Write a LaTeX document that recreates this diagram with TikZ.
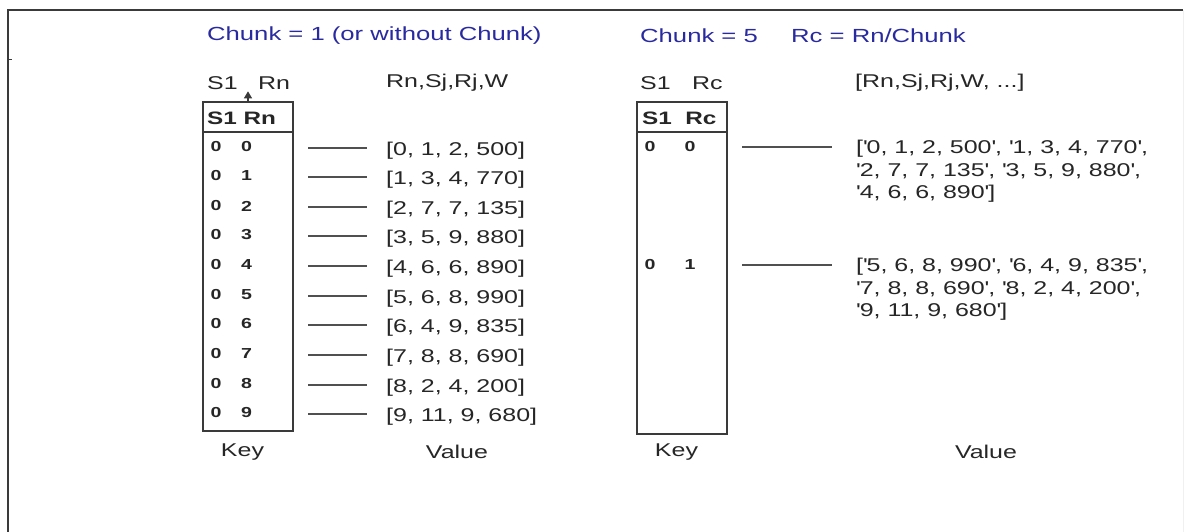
\documentclass[tikz,border=0pt]{standalone}
\usepackage{fontspec}
\setmainfont{Liberation Sans}[FakeStretch=1.35]
\usetikzlibrary{arrows.meta}

\definecolor{ink}{HTML}{262626}
\definecolor{titleblue}{HTML}{2A2AA0}
\definecolor{rulegray}{HTML}{505050}
\definecolor{framegray}{HTML}{3A3A3A}

% straight single quote
\newcommand{\sq}{\textquotesingle}

\begin{document}
\begin{tikzpicture}[x=1pt,y=-1pt,
  every node/.style={inner sep=0pt, text=ink},
  titletext/.style={anchor=west, font=\fontsize{19}{22}\selectfont, text=titleblue},
  colhead/.style={anchor=west, font=\fontsize{18.5}{22}\selectfont},
  keyhead/.style={anchor=west, font=\bfseries\fontsize{18}{22}\selectfont},
  digit/.style={font=\bfseries\fontsize{14.5}{16}\selectfont},
  value/.style={anchor=west, font=\fontsize{18.5}{22}\selectfont},
  multival/.style={anchor=north west, align=left, font=\fontsize{18.5}{22.5}\selectfont},
  caption/.style={font=\fontsize{18.5}{22}\selectfont},
  keybox/.style={draw=framegray, line width=1.3pt},
  link/.style={draw=rulegray, line width=1.3pt},
  frameline/.style={draw=framegray, line width=1.5pt},
]
\useasboundingbox (0,0) rectangle (1185,532);

% outer frame (top and left edges)
\draw[frameline] (8,532) -- (8,10) -- (1183,10);
\draw[framegray, line width=1pt] (8,60) -- (12,60);
\draw[gray!12, line width=1pt] (1183,10) -- (1183,532);

% ---------- titles ----------
\node[titletext] (t1) at (207,36) {Chunk = 1 (or without Chunk)};
\node[titletext] (t2) at (640,36) {Chunk = 5};
\node[titletext] (t3) at (791,36) {Rc = Rn/Chunk};

% ---------- column headings ----------
\node[colhead] (hS1a) at (207,83) {S1};
\node[colhead] (hRn)  at (258,83) {Rn};
\node[colhead] (hVa)  at (386,83) {Rn,Sj,Rj,W};
\node[colhead] (hS1b) at (640,83) {S1};
\node[colhead] (hRc)  at (692,83) {Rc};
\node[colhead] (hVb)  at (855,83) {[Rn,Sj,Rj,W, ...]};

% ---------- key table, Chunk = 1 ----------
\node[keybox, minimum width=90pt, minimum height=329pt] (keyA) at (248,266.5) {};
\coordinate (sepA) at (0,132);
\draw[keybox] (keyA.west |- sepA) -- (keyA.east |- sepA);
\node[keyhead] (khA) at (207,118) {S1 Rn};
\draw[framegray, line width=1.2pt, -{Triangle[length=7pt,width=8pt]}] (keyA.north) -- ++(0,-10);

\foreach \i/\y/\v in {0/147/{[0, 1, 2, 500]},
                      1/176/{[1, 3, 4, 770]},
                      2/206/{[2, 7, 7, 135]},
                      3/235/{[3, 5, 9, 880]},
                      4/265/{[4, 6, 6, 890]},
                      5/295/{[5, 6, 8, 990]},
                      6/324/{[6, 4, 9, 835]},
                      7/354/{[7, 8, 8, 690]},
                      8/384/{[8, 2, 4, 200]},
                      9/413/{[9, 11, 9, 680]}} {
  \node[digit] (ka\i) at (216,\y) {0};
  \node[digit] (kb\i) at (246.5,\y) {\i};
  \node[value] (v\i) at (386,\y+3.5) {\v};
  \draw[link] ([xshift=61.5pt,yshift=-1pt]kb\i.center) -- ([xshift=120.5pt,yshift=-1pt]kb\i.center);
}
\node[caption] (keyAcap) at (242.5,452) {Key};
\node[caption] (valAcap) at (457,452) {Value};

% ---------- key table, Chunk = 5 ----------
\node[keybox, minimum width=90pt, minimum height=332pt] (keyB) at (682,268) {};
\coordinate (sepB) at (0,132);
\draw[keybox] (keyB.west |- sepB) -- (keyB.east |- sepB);
\node[keyhead] (khB) at (642,118) {S1\ \ Rc};

\node[digit] (rc0a) at (650,147) {0};
\node[digit] (rc0b) at (690,147) {0};
\node[digit] (rc1a) at (650,265) {0};
\node[digit] (rc1b) at (690,265) {1};

\node[multival] (rv0) at (856,140)
  {[\sq0, 1, 2, 500\sq, \sq1, 3, 4, 770\sq,\\\sq2, 7, 7, 135\sq, \sq3, 5, 9, 880\sq,\\\sq4, 6, 6, 890\sq]};
\node[multival] (rv1) at (856,258)
  {[\sq5, 6, 8, 990\sq, \sq6, 4, 9, 835\sq,\\\sq7, 8, 8, 690\sq, \sq8, 2, 4, 200\sq,\\\sq9, 11, 9, 680\sq]};

\coordinate (la0) at (742,147);
\coordinate (lb0) at (832,147);
\coordinate (la1) at (742,265);
\coordinate (lb1) at (832,265);
\draw[link] (la0) -- (lb0);
\draw[link] (la1) -- (lb1);

\node[caption] (keyBcap) at (676.5,452) {Key};
\node[caption] (valBcap) at (986,452) {Value};
\end{tikzpicture}
\end{document}
